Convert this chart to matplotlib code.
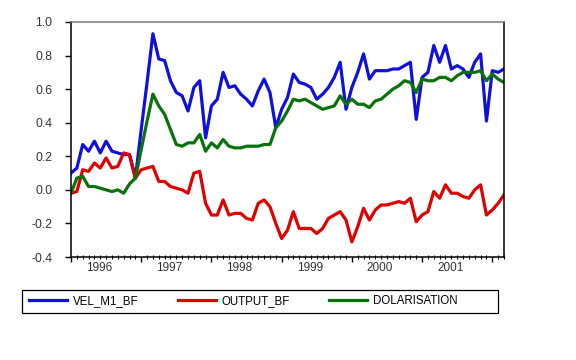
import numpy as np
import pandas as pd
import matplotlib
matplotlib.use("Agg")
import matplotlib.pyplot as plt
from matplotlib.patches import Rectangle

plt.rcParams['font.family'] = ['Liberation Sans', 'DejaVu Sans']

# monthly observations 1996M01 - 2002M03
dates = pd.date_range('1996-01-01', periods=75, freq='MS')

vel_m1_bf = [0.10, 0.13, 0.27, 0.23, 0.29, 0.22, 0.29, 0.23, 0.22, 0.21,
             0.21, 0.07, 0.36, 0.64, 0.93, 0.78, 0.77, 0.65, 0.58, 0.56,
             0.47, 0.61, 0.65, 0.31, 0.50, 0.54, 0.70, 0.61, 0.62, 0.57,
             0.54, 0.50, 0.59, 0.66, 0.58, 0.37, 0.48, 0.55, 0.69, 0.64,
             0.63, 0.61, 0.54, 0.57, 0.61, 0.67, 0.76, 0.48, 0.61, 0.70,
             0.81, 0.66, 0.71, 0.71, 0.71, 0.72, 0.72, 0.74, 0.76, 0.42,
             0.67, 0.70, 0.86, 0.76, 0.86, 0.72, 0.74, 0.72, 0.67, 0.76,
             0.81, 0.41, 0.71, 0.70, 0.72]

output_bf = [-0.02, -0.01, 0.12, 0.11, 0.16, 0.13, 0.19, 0.13, 0.14, 0.22,
             0.21, 0.07, 0.12, 0.13, 0.14, 0.05, 0.05, 0.02, 0.01, 0.00,
             -0.02, 0.10, 0.11, -0.08, -0.15, -0.15, -0.06, -0.15, -0.14, -0.14,
             -0.17, -0.18, -0.08, -0.06, -0.10, -0.20, -0.29, -0.24, -0.13, -0.23,
             -0.23, -0.23, -0.26, -0.23, -0.17, -0.15, -0.13, -0.18, -0.31, -0.22,
             -0.11, -0.18, -0.12, -0.09, -0.09, -0.08, -0.07, -0.08, -0.05, -0.19,
             -0.15, -0.13, -0.01, -0.05, 0.03, -0.02, -0.02, -0.04, -0.05, 0.00,
             0.03, -0.15, -0.12, -0.08, -0.03]

dolarisation = [-0.02, 0.07, 0.08, 0.02, 0.02, 0.01, 0.00, -0.01, 0.00, -0.02,
                0.035, 0.07, 0.24, 0.41, 0.57, 0.50, 0.45, 0.36, 0.27, 0.26,
                0.28, 0.28, 0.33, 0.23, 0.28, 0.25, 0.30, 0.26, 0.25, 0.25,
                0.26, 0.26, 0.26, 0.27, 0.27, 0.37, 0.41, 0.47, 0.54, 0.53,
                0.54, 0.52, 0.50, 0.48, 0.49, 0.50, 0.56, 0.51, 0.54, 0.51,
                0.51, 0.49, 0.53, 0.54, 0.57, 0.60, 0.62, 0.65, 0.64, 0.58,
                0.66, 0.65, 0.65, 0.67, 0.67, 0.65, 0.68, 0.70, 0.70, 0.70,
                0.71, 0.65, 0.69, 0.66, 0.64]

years = [1996, 1997, 1998, 1999, 2000, 2001]
yticks = [-0.4, -0.2, 0.0, 0.2, 0.4, 0.6, 0.8, 1.0]

x = dates.year + (dates.month - 1) / 12.0

fig = plt.figure(figsize=(5.76, 3.6), dpi=100)
ax = fig.add_axes([71 / 576, 103 / 360, 433 / 576, 235 / 360])

l1, = ax.plot(x, vel_m1_bf, color='#1010dc', lw=2.3, label='VEL_M1_BF')
l2, = ax.plot(x, output_bf, color='#e00000', lw=2.3, label='OUTPUT_BF')
l3, = ax.plot(x, dolarisation, color='#0a720a', lw=2.3, label='DOLARISATION')

ax.set_xlim(x[0], x[-1])
ax.set_ylim(-0.4, 1.0)
ax.set_yticks(yticks)
ax.set_yticklabels(['%.1f' % v for v in yticks])

ax.set_xticks(years + [2002])
ax.set_xticklabels([])
ax.set_xticks(x, minor=True)
ax.tick_params(axis='x', which='major', direction='out', length=3.5, width=1, colors='black')
ax.tick_params(axis='x', which='minor', direction='inout', length=2.5, width=0.8, colors='black')
ax.tick_params(axis='y', direction='out', length=4.5, width=1, pad=9,
               labelsize=8.8, labelcolor='#333333')

for yr in years:
    ax.text(yr + 0.4, -0.045, str(yr), transform=ax.get_xaxis_transform(),
            ha='center', va='center', fontsize=8.5, color='#333333')

for side in ['left', 'bottom', 'right']:
    ax.spines[side].set_color('black')
    ax.spines[side].set_linewidth(1.1)
ax.spines['top'].set_color('#7a7a7a')
ax.spines['top'].set_linewidth(1.1)

# legend box under the chart
fig.patches.append(Rectangle((22 / 576, 47 / 360), 476 / 576, 23 / 360,
                             transform=fig.transFigure, fill=False,
                             edgecolor='black', lw=0.9))
fig.legend(handles=[l1, l2, l3], loc='center left', ncol=3,
           bbox_to_anchor=(29 / 576, 58.5 / 360), frameon=False,
           fontsize=8.3, handlelength=3.3, handletextpad=0.5,
           columnspacing=3.4, borderpad=0, borderaxespad=0)

fig.savefig('out.png', dpi=100, facecolor='white')
